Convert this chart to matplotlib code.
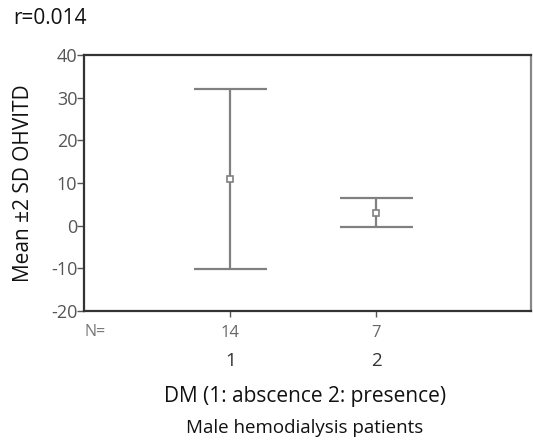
import matplotlib
matplotlib.use("Agg")
import matplotlib.pyplot as plt
from matplotlib.transforms import blended_transform_factory

# Data
groups = [1, 2]
group_labels = ["1", "2"]
n_counts = ["14", "7"]
means = [11.0, 2.9]
lower = [-10.2, -0.4]   # mean - 2 SD
upper = [32.1, 6.4]     # mean + 2 SD
yticks = [-20, -10, 0, 10, 20, 30, 40]

plt.rcParams["font.family"] = ["Open Sans", "DejaVu Sans"]

fig = plt.figure(figsize=(5.33, 4.41), dpi=100)
ax = fig.add_axes([0.158, 0.295, 0.838, 0.58])

grey = "#808080"
cap = 0.25
ax.vlines(groups, lower, upper, color=grey, lw=1.6, zorder=2)
ax.hlines(upper, [g - cap for g in groups], [g + cap for g in groups], color=grey, lw=1.6)
ax.hlines(lower, [g - cap for g in groups], [g + cap for g in groups], color=grey, lw=1.6)
ax.plot(groups, means, ls="none", marker="s", ms=5, mfc="white", mec=grey, mew=1.2, zorder=3)

ax.set_xlim(0, 3.06)
ax.set_ylim(-20, 40)
ax.set_yticks(yticks)
ax.set_yticklabels([str(v) for v in yticks], color="#555555", fontsize=13)
ax.set_xticks(groups)
ax.set_xticklabels(n_counts, color="#666666", fontsize=12)
ax.tick_params(axis="y", length=5, width=1, color="#555555", pad=0)
ax.tick_params(axis="x", length=4, width=1, color="#555555", pad=6)

for side in ["left", "bottom", "top"]:
    ax.spines[side].set_color("#333333")
    ax.spines[side].set_linewidth(1.6)
ax.spines["right"].set_color("#888888")
ax.spines["right"].set_linewidth(1.6)

trans = blended_transform_factory(ax.transData, ax.transAxes)
ax.text(0.0, -0.083, "N=", transform=trans, ha="left", va="center",
        fontsize=11.5, color="#777777")
for g, lab in zip(groups, group_labels):
    ax.text(g, -0.195, lab, transform=trans, ha="center", va="center",
            fontsize=13.5, color="#333333")

ax.set_ylabel("Mean \u00b12 SD OHVITD", fontsize=15, color="#111111", labelpad=12)
fig.text(0.572, 0.1, "DM (1: abscence 2: presence)", ha="center", va="center",
         fontsize=15, color="#111111")
fig.text(0.572, 0.03, "Male hemodialysis patients", ha="center", va="center",
         fontsize=13.5, color="#111111")
fig.text(0.024, 0.957, "r=0.014", ha="left", va="center", fontsize=15, color="#111111")

fig.savefig("out.png", dpi=100)
